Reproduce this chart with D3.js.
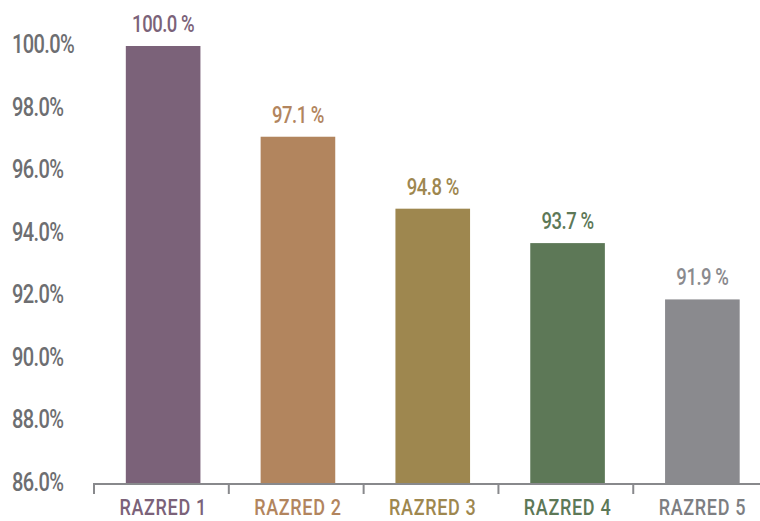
<!DOCTYPE html>
<html>
<head>
<meta charset="utf-8">
<script src="https://cdn.jsdelivr.net/npm/d3@7"></script>
<style>
  body { margin: 0; background: #fff; }
  svg text { font-family: Roboto, "DejaVu Sans Condensed", sans-serif; font-weight: 500; }
</style>
</head>
<body>
<svg id="chart" width="760" height="521"></svg>
<script>
// Share per grade (percent)
const categories = ["RAZRED 1", "RAZRED 2", "RAZRED 3", "RAZRED 4", "RAZRED 5"];
const values = [100.0, 97.1, 94.8, 93.7, 91.9];
const colors = ["#7b6279", "#b2855e", "#9e874f", "#5d7857", "#8a8a8e"];
const yTicks = [86, 88, 90, 92, 94, 96, 98, 100];

const svg = d3.select("#chart");
const axisY = 484;
const narrow = 0.77; // horizontal squeeze for a condensed look

const x = d3.scaleBand().domain(categories).range([94, 771.5]).paddingInner(0.4465).paddingOuter(0.236);
const y = d3.scaleLinear().domain([86, 100]).range([axisY, 46]);

const place = (px, py, sx = narrow) => `translate(${px},${py}) scale(${sx},1)`;

// bars
svg.selectAll("rect.bar").data(values).join("rect")
  .attr("class", "bar")
  .attr("x", (d, i) => x(categories[i]))
  .attr("width", x.bandwidth())
  .attr("y", d => y(d))
  .attr("height", d => axisY - y(d))
  .attr("fill", (d, i) => colors[i]);

// value labels
svg.selectAll("text.val").data(values).join("text")
  .attr("class", "val")
  .attr("transform", (d, i) => place(x(categories[i]) + x.bandwidth() / 2, y(d) - 14))
  .attr("text-anchor", "middle")
  .attr("font-size", 24)
  .attr("letter-spacing", -0.6)
  .attr("fill", (d, i) => colors[i])
  .text(d => d.toFixed(1) + " %");

// y tick labels
svg.selectAll("text.ytick").data(yTicks).join("text")
  .attr("class", "ytick")
  .attr("transform", d => place(12, y(d) + 7))
  .attr("font-size", 26)
  .attr("letter-spacing", -0.8)
  .attr("fill", "#6d6e71")
  .text(d => d.toFixed(1) + "%");

// x axis
const bandStep = x.step();
const tickXs = categories.map((c, i) => 94 + i * bandStep);
svg.append("line")
  .attr("x1", 93).attr("x2", 760)
  .attr("y1", axisY).attr("y2", axisY)
  .attr("stroke", "#88898c").attr("stroke-width", 2);
svg.selectAll("line.xtick").data(tickXs).join("line")
  .attr("class", "xtick")
  .attr("x1", d => d).attr("x2", d => d)
  .attr("y1", axisY).attr("y2", axisY + 10)
  .attr("stroke", "#88898c").attr("stroke-width", 2);

// category labels
svg.selectAll("text.cat").data(categories).join("text")
  .attr("class", "cat")
  .attr("transform", d => place(x(d) + x.bandwidth() / 2, 515, 0.82))
  .attr("text-anchor", "middle")
  .attr("font-size", 22)
  .attr("letter-spacing", 0.8)
  .attr("fill", (d, i) => i === 4 ? "#7d7e82" : colors[i])
  .text(d => d);
</script>
</body>
</html>
